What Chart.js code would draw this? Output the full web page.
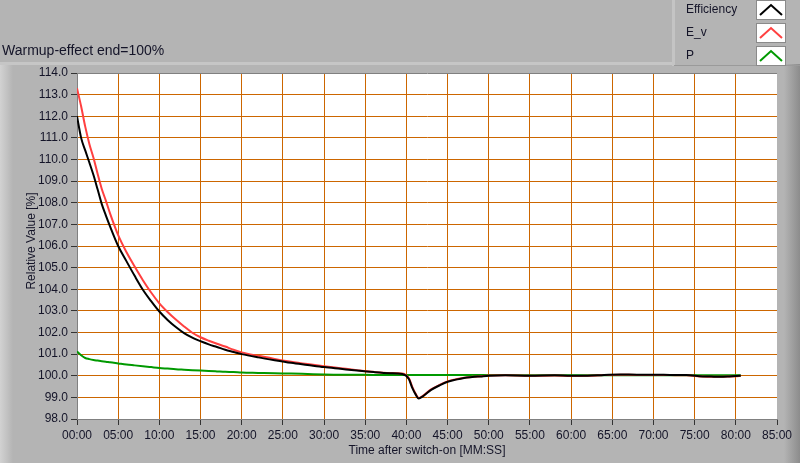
<!DOCTYPE html>
<html>
<head>
<meta charset="utf-8">
<script src="https://cdn.jsdelivr.net/npm/chart.js@4.4.1/dist/chart.umd.min.js"></script>
<style>
  html, body { margin: 0; padding: 0; background: #b4b4b4; }
  #chart { display: block; }
</style>
</head>
<body>
<canvas id="chart" width="800" height="463"></canvas>
<script>
// time after switch-on, in minutes
const timeMin = [
  0, 0.5, 1, 1.5, 2, 2.5, 3, 3.5, 4,
  5, 6, 7, 8, 9, 10, 11, 12, 13, 14, 15, 16, 17, 18, 19, 20,
  22, 24, 26, 28, 30, 32, 34, 36, 38,
  39.5, 40.3, 40.7, 41.1, 41.5,
  42, 43, 44, 45, 46, 47, 48, 49, 50,
  52, 55, 58, 60, 62, 64, 66, 68, 70, 72, 74, 76, 77, 78, 79, 80, 80.6
];

const efficiency = [
  112.0, 111.0, 110.42, 109.86, 109.28, 108.62, 107.95, 107.42, 106.92,
  106.0, 105.3, 104.62, 103.98, 103.45, 102.97, 102.58, 102.25, 101.97, 101.76, 101.6, 101.45, 101.33, 101.2, 101.1, 101.0,
  100.85, 100.72, 100.6, 100.5, 100.4, 100.32, 100.24, 100.17, 100.12,
  100.08, 99.85, 99.45, 99.15, 98.95,
  99.05, 99.35, 99.55, 99.72, 99.82, 99.9, 99.94, 99.97, 100.0,
  100.02, 100.0, 100.02, 100.0, 100.0, 100.04, 100.06, 100.05, 100.05, 100.04, 100.03, 99.97, 99.96, 99.95, 99.96, 99.99, 100.0
];

const eV = [
  113.3, 112.46, 111.52, 110.72, 110.08, 109.34, 108.65, 108.1, 107.52,
  106.5, 105.72, 105.05, 104.42, 103.85, 103.35, 102.95, 102.6, 102.28, 101.99, 101.78, 101.62, 101.48, 101.35, 101.2, 101.08,
  100.92, 100.78, 100.65, 100.54, 100.44, 100.35, 100.26, 100.18, 100.13,
  100.1, 99.88, 99.5, 99.18, 98.97,
  99.07, 99.37, 99.57, 99.74, 99.84, 99.91, 99.95, 99.98, 100.01,
  100.02, 100.0, 100.01, 99.99, 100.0, 100.03, 100.05, 100.04, 100.04, 100.03, 100.02, 99.96, 99.95, 99.95, 99.96, 99.98, 100.0
];

const power = [
  101.12, 100.95, 100.82, 100.77, 100.73, 100.7, 100.67, 100.65, 100.62,
  100.57, 100.52, 100.48, 100.44, 100.4, 100.36, 100.33, 100.3, 100.28, 100.26, 100.24, 100.22, 100.2, 100.18, 100.17, 100.15,
  100.13, 100.11, 100.1, 100.08, 100.06, 100.05, 100.05, 100.04, 100.04,
  100.03, 100.03, 100.03, 100.03, 100.03,
  100.03, 100.03, 100.03, 100.03, 100.03, 100.03, 100.03, 100.03, 100.03,
  100.03, 100.02, 100.02, 100.02, 100.02, 100.02, 100.02, 100.02, 100.02, 100.02, 100.02, 100.02, 100.02, 100.02, 100.02, 100.02, 100.02
];

const seriesLabels = ['Efficiency', 'E_v', 'P'];
const seriesColors = ['#000000', '#ff4040', '#009900'];
const chartTitle = 'Warmup-effect end=100%';
const xTitle = 'Time after switch-on [MM:SS]';
const yTitle = 'Relative Value [%]';

const FONT = '"Liberation Sans", Arial, sans-serif';
const TEXT = '#141428';

function toPoints(values) {
  return values.map((v, i) => ({ x: timeMin[i], y: v }));
}

function mmss(v) {
  return String(v).padStart(2, '0') + ':00';
}

// gray LabVIEW-ish panel, white plot area, title and legend
const panelPlugin = {
  id: 'panel',
  beforeDraw(chart) {
    const ctx = chart.ctx;
    const a = chart.chartArea;
    ctx.save();
    ctx.fillStyle = '#b4b4b4';
    ctx.fillRect(0, 0, chart.width, chart.height);

    // left bevel strip
    let g = ctx.createLinearGradient(0, 0, 13, 0);
    g.addColorStop(0, '#d2d2d2');
    g.addColorStop(1, '#b4b4b4');
    ctx.fillStyle = g;
    ctx.fillRect(0, 64, 13, chart.height - 64);
    // right dark strip
    g = ctx.createLinearGradient(784, 0, 800, 0);
    g.addColorStop(0, '#b4b4b4');
    g.addColorStop(1, '#8c8c8c');
    ctx.fillStyle = g;
    ctx.fillRect(784, 64, 16, chart.height - 64);
    // separator under title
    ctx.fillStyle = '#c6c6c6';
    ctx.fillRect(0, 62, 672, 3);
    // legend panel edges
    ctx.fillStyle = '#c4c4c4';
    ctx.fillRect(672, 0, 3, 66);
    ctx.fillStyle = '#9a9a9a';
    ctx.fillRect(674, 65, 126, 1);

    // plot area
    ctx.fillStyle = '#ffffff';
    ctx.fillRect(a.left, a.top, a.right - a.left, a.bottom - a.top);
    ctx.restore();
  },
  afterDraw(chart) {
    const ctx = chart.ctx;
    const a = chart.chartArea;
    ctx.save();
    ctx.fillStyle = TEXT;
    ctx.textBaseline = 'middle';

    // title
    ctx.font = '14px ' + FONT;
    ctx.textAlign = 'left';
    ctx.fillText(chartTitle, 2, 51);

    // axis titles
    ctx.font = '12px ' + FONT;
    ctx.textAlign = 'center';
    ctx.fillText(xTitle, (a.left + a.right) / 2, 451);
    ctx.translate(32, 241);
    ctx.rotate(-Math.PI / 2);
    ctx.fillText(yTitle, 0, 0);
    ctx.setTransform(1, 0, 0, 1, 0, 0);

    // legend
    chart.data.datasets.forEach((ds, i) => {
      const y = 1 + i * 23;
      ctx.font = '12px ' + FONT;
      ctx.textAlign = 'left';
      ctx.fillStyle = TEXT;
      ctx.fillText(ds.label, 686, y + 9);
      ctx.fillStyle = '#ffffff';
      ctx.fillRect(757, y, 28, 18);
      ctx.strokeStyle = '#8a8a8a';
      ctx.lineWidth = 1;
      ctx.strokeRect(756.5, y - 0.5, 29, 19);
      ctx.strokeStyle = ds.borderColor;
      ctx.lineWidth = 2;
      ctx.beginPath();
      ctx.moveTo(760, y + 14);
      ctx.lineTo(771, y + 4);
      ctx.lineTo(782, y + 14);
      ctx.stroke();
    });
    ctx.restore();
  }
};

function makeDataset(i, values) {
  return {
    label: seriesLabels[i],
    data: toPoints(values),
    borderColor: seriesColors[i],
    backgroundColor: seriesColors[i],
    borderWidth: 2,
    pointRadius: 0,
    cubicInterpolationMode: 'monotone',
    fill: false
  };
}

new Chart(document.getElementById('chart'), {
  type: 'line',
  data: {
    datasets: [
      makeDataset(0, efficiency),
      makeDataset(1, eV),
      makeDataset(2, power)
    ]
  },
  options: {
    responsive: false,
    animation: false,
    layout: { padding: { top: 73, right: 23, left: 0, bottom: 0 } },
    plugins: {
      legend: { display: false },
      tooltip: { enabled: false }
    },
    scales: {
      x: {
        type: 'linear',
        min: 0,
        max: 85,
        afterFit: s => { s.height = 44; },
        border: { color: '#808080', width: 1 },
        grid: {
          color: c => (c.tick && c.tick.value === 85) ? 'rgba(0,0,0,0)' : '#cc6600',
          tickColor: '#333333',
          tickLength: 6,
          lineWidth: 1
        },
        ticks: {
          stepSize: 5,
          autoSkip: false,
          maxRotation: 0,
          padding: 3,
          color: TEXT,
          font: { family: FONT, size: 12 },
          callback: v => mmss(v)
        }
      },
      y: {
        min: 98,
        max: 114,
        afterFit: s => { s.width = 77; },
        border: { color: '#808080', width: 1 },
        grid: {
          color: c => (c.tick && c.tick.value === 114) ? '#808080' : '#cc6600',
          tickColor: '#333333',
          tickLength: 6,
          lineWidth: 1
        },
        ticks: {
          stepSize: 1,
          padding: 3,
          color: TEXT,
          font: { family: FONT, size: 12 },
          callback: v => v.toFixed(1)
        }
      }
    }
  },
  plugins: [panelPlugin]
});
</script>
</body>
</html>
